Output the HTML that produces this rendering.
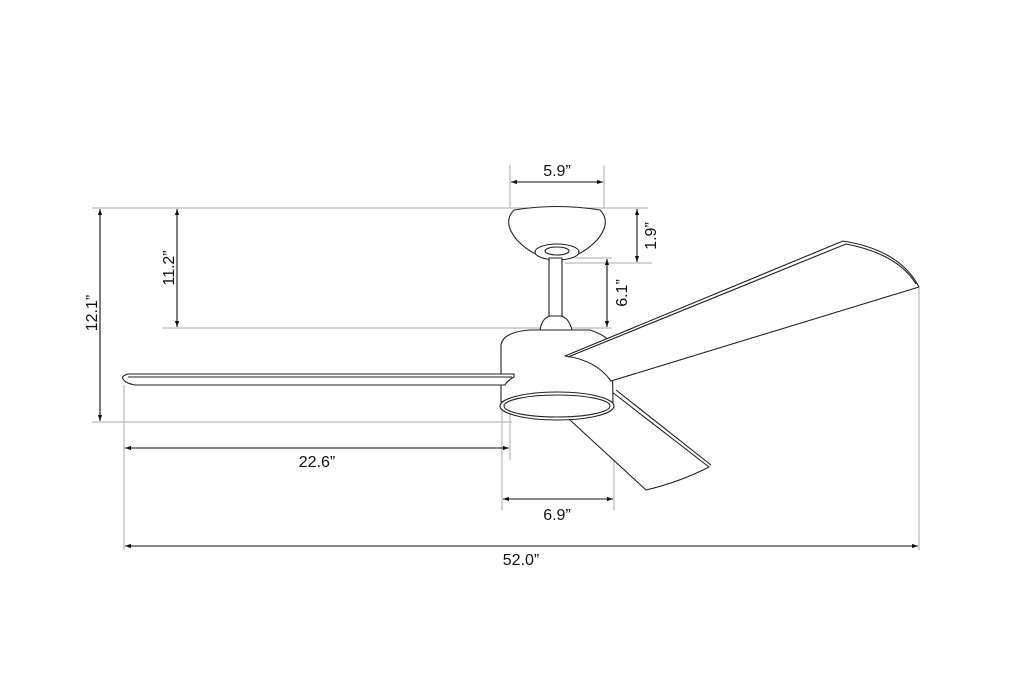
<!DOCTYPE html>
<html><head><meta charset="utf-8"><style>
html,body{margin:0;padding:0;background:#fff;width:1012px;height:700px;overflow:hidden}
text{font-family:"Liberation Sans",Arial,sans-serif;font-size:16px;fill:#111}
</style></head><body>
<svg width="1012" height="700" viewBox="0 0 1012 700" xmlns="http://www.w3.org/2000/svg">
<defs>
<marker id="a" viewBox="0 0 10 10" refX="10" refY="5" markerWidth="10" markerHeight="6" orient="auto-start-reverse" markerUnits="userSpaceOnUse"><path d="M0,1.5 L10,5 L0,8.5z" fill="#111"/></marker>
</defs>
<g stroke="#aaa" stroke-width="1" fill="none">
<line x1="92" y1="208" x2="648" y2="208"/>
<line x1="510" y1="165" x2="510" y2="208"/>
<line x1="604" y1="165" x2="604" y2="208"/>
<line x1="565" y1="263" x2="652" y2="263"/>
<line x1="575" y1="258" x2="612" y2="258"/>
<line x1="162" y1="328" x2="612" y2="328"/>
<line x1="92" y1="422" x2="512" y2="422"/>
<line x1="124" y1="385" x2="124" y2="550"/>
<line x1="510" y1="376" x2="510" y2="460"/>
<line x1="502" y1="400" x2="502" y2="510"/>
<line x1="614" y1="395" x2="614" y2="510"/>
<line x1="919" y1="288" x2="919" y2="550"/>
</g>
<g stroke="#111" stroke-width="1.1" fill="none" marker-start="url(#a)" marker-end="url(#a)">
<line x1="511" y1="182" x2="603" y2="182"/>
<line x1="637" y1="209" x2="637" y2="262"/>
<line x1="607" y1="259" x2="607" y2="327"/>
<line x1="177" y1="209" x2="177" y2="327"/>
<line x1="100" y1="209" x2="100" y2="421"/>
<line x1="125" y1="448" x2="509" y2="448"/>
<line x1="503" y1="499" x2="613" y2="499"/>
<line x1="125" y1="546" x2="918" y2="546"/>
</g>
<text x="557" y="176" text-anchor="middle">5.9”</text>
<text transform="translate(656,236) rotate(-90)" text-anchor="middle">1.9”</text>
<text transform="translate(627,293) rotate(-90)" text-anchor="middle">6.1”</text>
<text transform="translate(174,268) rotate(-90)" text-anchor="middle">11.2”</text>
<text transform="translate(97,313) rotate(-90)" text-anchor="middle">12.1”</text>
<text x="317" y="467" text-anchor="middle">22.6”</text>
<text x="557" y="520" text-anchor="middle">6.9”</text>
<text x="521" y="565" text-anchor="middle">52.0”</text>
<g stroke="#222" stroke-width="1.1" fill="#fff" stroke-linejoin="round">
<path d="M612,392 L709,467 Q680,482 646,490 L570,420 Z"/>
<line x1="616" y1="390" x2="711" y2="465"/>
<path d="M514,210 Q557,203 600,210 Q612,222 597,240 Q580,258 557,260 Q534,258 517,240 Q502,222 514,210 Z"/>
<ellipse cx="557" cy="252" rx="22" ry="8"/>
<ellipse cx="557" cy="251" rx="12" ry="4"/>
<rect x="549" y="258" width="13" height="60"/>
<path d="M540,330 Q542,318 550,316 L561,316 Q569,318 572,330 Z"/>
<path d="M501,402 L501,345 Q503,332 530,330 L590,330 Q608,336 612,345 L613,402 Z"/>
<path d="M565,356 L843,241 Q900,250 919,287 L611,381 Q596,360 565,356 Z"/>
<path d="M568,357 L846,244 Q898,254 916,284" fill="none"/>
<ellipse cx="557" cy="406" rx="57" ry="14"/>
<ellipse cx="557" cy="406" rx="53" ry="11"/>
<path d="M514,374 L128,374 Q121,376 123,379 Q125,383 135,385 L505,385 Q508,380 514,377 Z"/>
<line x1="128" y1="377" x2="512" y2="377"/>
</g>
</svg>
</body></html>
